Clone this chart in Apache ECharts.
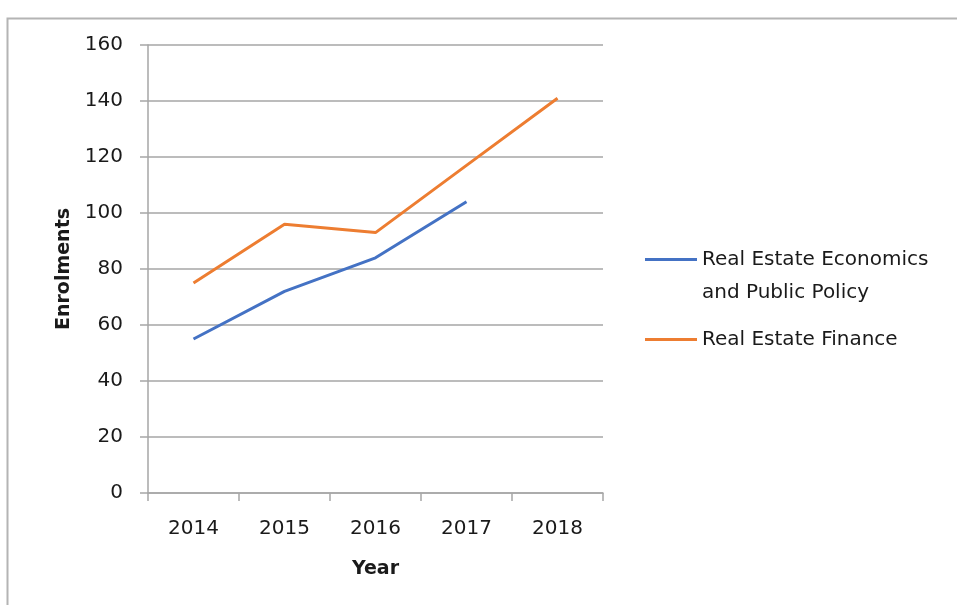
<!DOCTYPE html>
<html>
<head>
<meta charset="utf-8">
<script src="https://cdn.jsdelivr.net/npm/echarts@6/dist/echarts.min.js"></script>
<style>
html,body{margin:0;padding:0;background:#fff;}
#chart{width:957px;height:605px;}
</style>
</head>
<body>
<div id="chart"></div>
<script>
var years = ['2014', '2015', '2016', '2017', '2018'];
var economicsName = 'Real Estate Economics\nand Public Policy';
var financeName = 'Real Estate Finance';
var economicsValues = [55, 72, 84, 104, null];
var financeValues = [75, 96, 93, 117, 141];
var yTicks = { min: 0, max: 160, interval: 20 };

var FONT = 'DejaVu Sans';
var chart = echarts.init(document.getElementById('chart'));
var gridColor = '#a6a6a6';
chart.setOption({
  animation: false,
  backgroundColor: '#ffffff',
  textStyle: { fontFamily: FONT },
  graphic: [{
    type: 'rect', left: 5, top: 16, silent: true,
    shape: { width: 1000, height: 1000 },
    style: { fill: 'none', stroke: '#b4b4b4', lineWidth: 2 }
  }],
  grid: { left: 148, right: 354, top: 45, bottom: 112 },
  legend: {
    orient: 'vertical',
    left: 645,
    top: 210,
    padding: 0,
    itemWidth: 52,
    itemHeight: 3,
    itemGap: 14,
    icon: 'rect',
    formatter: function (name) {
      return name === economicsName ? ' \n' + name : name;
    },
    textStyle: { fontFamily: FONT, fontSize: 20, color: '#1a1a1a', lineHeight: 33 },
    data: [economicsName, financeName]
  },
  xAxis: {
    type: 'category',
    data: years,
    boundaryGap: true,
    name: 'Year',
    nameLocation: 'middle',
    nameGap: 67,
    nameTextStyle: { fontFamily: FONT, fontSize: 19, fontWeight: 'bold', color: '#1a1a1a' },
    axisLine: { lineStyle: { color: gridColor, width: 1.5 } },
    axisTick: { show: true, length: 8, alignWithLabel: false, lineStyle: { color: gridColor, width: 1.5 } },
    axisLabel: { margin: 26, fontSize: 20, color: '#1a1a1a', fontFamily: FONT }
  },
  yAxis: {
    type: 'value',
    min: yTicks.min,
    max: yTicks.max,
    interval: yTicks.interval,
    name: 'Enrolments',
    nameLocation: 'middle',
    nameGap: 74,
    nameRotate: 90,
    nameTextStyle: { fontFamily: FONT, fontSize: 19, fontWeight: 'bold', color: '#1a1a1a' },
    axisLine: { show: true, lineStyle: { color: gridColor, width: 1.5 } },
    axisTick: { show: true, length: 8, lineStyle: { color: gridColor, width: 1.5 } },
    splitLine: { show: true, lineStyle: { color: gridColor, width: 1.5 } },
    axisLabel: { margin: 25, fontSize: 20, color: '#1a1a1a', fontFamily: FONT }
  },
  series: [
    {
      name: economicsName,
      type: 'line',
      data: economicsValues,
      showSymbol: false,
      symbol: 'none',
      connectNulls: false,
      lineStyle: { color: '#4472C4', width: 3 },
      itemStyle: { color: '#4472C4' }
    },
    {
      name: financeName,
      type: 'line',
      data: financeValues,
      showSymbol: false,
      symbol: 'none',
      lineStyle: { color: '#ED7D31', width: 3 },
      itemStyle: { color: '#ED7D31' }
    }
  ]
});
</script>
</body>
</html>
